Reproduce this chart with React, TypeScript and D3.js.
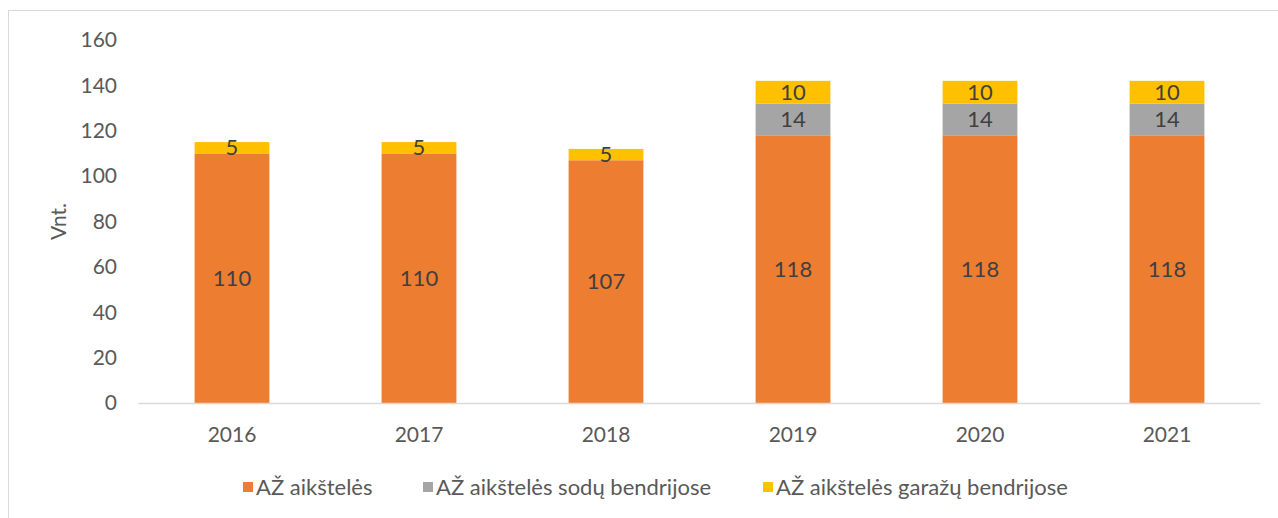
import React from "react";
import * as d3 from "d3";

const years = ["2016", "2017", "2018", "2019", "2020", "2021"];
const azAikst = [110, 110, 107, 118, 118, 118];
const azSodu = [0, 0, 0, 14, 14, 14];
const azGarazu = [5, 5, 5, 10, 10, 10];
const seriesNames = ["AŽ aikštelės", "AŽ aikštelės sodų bendrijose", "AŽ aikštelės garažų bendrijose"];
const seriesColors = ["#ED7D31", "#A5A5A5", "#FFC000"];
const yTicks = [0, 20, 40, 60, 80, 100, 120, 140, 160];

const W = 1278;
const H = 518;
const FONT = "Lato, 'Open Sans', sans-serif";

export default function App() {
  const x = d3.scaleBand<string>().domain(years).range([138.5, 1260.5]).paddingInner(0.6).paddingOuter(0.3);
  const y = d3.scaleLinear().domain([0, 160]).range([403, 40]);

  const rows = years.map((yr, i) => ({ year: yr, a: azAikst[i], s: azSodu[i], g: azGarazu[i] }));
  const stack = d3.stack<any>().keys(["a", "s", "g"])(rows);

  const legendX = [243, 423, 763];

  return (
    <svg width={W} height={H} style={{ position: "absolute", left: 0, top: 0, background: "#fff" }} fontFamily={FONT}>
      <rect x={8.5} y={10.5} width={1300} height={530} fill="#fff" stroke="#D9D9D9" strokeWidth={1} />
      {yTicks.map((t) => (
        <text key={t} x={117} y={y(t)} dy="0.35em" textAnchor="end" fontSize={21} fill="#595959">
          {t}
        </text>
      ))}
      <text transform={`translate(66,${y(80)}) rotate(-90)`} textAnchor="middle" fontSize={21} fill="#595959">
        Vnt.
      </text>
      {stack.map((layer, li) =>
        layer.map((d, i) => {
          const v = d[1] - d[0];
          if (v <= 0) return null;
          const bx = x(years[i])!;
          const bw = x.bandwidth();
          return (
            <g key={`${li}-${i}`}>
              <rect x={bx} y={y(d[1])} width={bw} height={y(d[0]) - y(d[1])} fill={seriesColors[li]} />
              <text
                x={bx + bw / 2}
                y={(y(d[0]) + y(d[1])) / 2}
                dy="0.35em"
                textAnchor="middle"
                fontSize={22}
                fill="#404040"
              >
                {v}
              </text>
            </g>
          );
        })
      )}
      <line x1={138.5} x2={1260.5} y1={403.5} y2={403.5} stroke="#D9D9D9" strokeWidth={1.3} />
      {years.map((yr) => (
        <text key={yr} x={x(yr)! + x.bandwidth() / 2} y={435} dy="0.35em" textAnchor="middle" fontSize={21} fill="#595959">
          {yr}
        </text>
      ))}
      {seriesNames.map((n, i) => (
        <g key={n}>
          <rect x={legendX[i]} y={482} width={10} height={10} fill={seriesColors[i]} />
          <text x={legendX[i] + 13} y={487} dy="0.35em" fontSize={22} fill="#595959">
            {n}
          </text>
        </g>
      ))}
    </svg>
  );
}
